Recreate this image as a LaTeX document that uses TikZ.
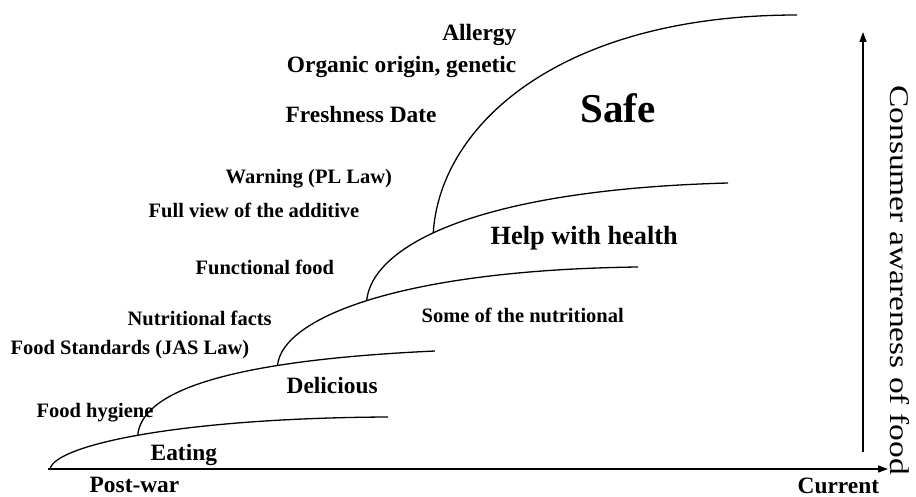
\documentclass[tikz,border=0pt]{standalone}
\usepackage{fontspec,graphicx}
\setmainfont{Liberation Serif}
\usetikzlibrary{arrows.meta,positioning}

\begin{document}
\begin{tikzpicture}[x=1pt,y=-1pt,line width=1.3pt,
  every node/.style={inner sep=0pt,anchor=base west,font=\bfseries\fontsize{20.5}{24}\selectfont},
  big/.style={font=\bfseries\fontsize{23.4}{28}\selectfont},
  axis/.style={-{Triangle[length=10pt,width=7pt]}}]
\useasboundingbox (0,0) rectangle (916,497);
% axes
\coordinate (o) at (48,469);
\coordinate (xend) at (888,469);
\coordinate (ybot) at (863,452);
\coordinate (ytop) at (863,32);
\draw[axis] (o)--(xend);
\draw[axis] (ybot)--(ytop);
% stages
\coordinate (s0) at (50,469);
\draw (s0) .. controls (55,445) and (180,418) .. (388,417) coordinate[pos=0.485] (s1);
\draw (s1) .. controls (142,388) and (240,360) .. (435,351) coordinate[pos=0.68] (s2);
\draw (s2) .. controls (282,318) and (400,270) .. (638,267) coordinate[pos=0.49] (s3);
\draw (s3) .. controls (372,248) and (470,190) .. (728,183) coordinate[pos=0.44] (s4);
\draw (s4) .. controls (440,125) and (560,15) .. (797,15);
% labels
\node[big] (postwar) at (89,492) {Post-war};
\node[big] (current) at (797,493) {Current};
\node[big] (eating) at (150,460) {Eating};
\node[big] (delicious) at (286,393) {Delicious};
\node[font=\bfseries\fontsize{26.3}{31}\selectfont] (health) at (490,245) {Help with health};
\node[font=\bfseries\fontsize{41}{48}\selectfont] (safe) at (580,123) {Safe};
\node (hygiene) at (36,417) {Food hygiene};
\node (jas) at (10,354) {Food Standards (JAS Law)};
\node (facts) at (127,325) {Nutritional facts};
\node (functional) at (195,275) {Functional food};
\node (somenutri) at (421,323) {Some of the nutritional};
\node (additive) at (148,218) {Full view of the additive};
\node (warning) at (225,184) {Warning (PL Law)};
\node[big] (fresh) at (285,123) {Freshness Date};
\node[big,anchor=base east] (organic) at (517,73) {Organic origin, genetic};
\node[big,anchor=base east] (allergy) at (517,41) {Allergy};
\node[anchor=base,rotate=-90,font=\fontsize{27}{32}\selectfont] (awareness) at (890,280)
  {\scalebox{1.24}[1]{Consumer awareness of food}};
\end{tikzpicture}
\end{document}
